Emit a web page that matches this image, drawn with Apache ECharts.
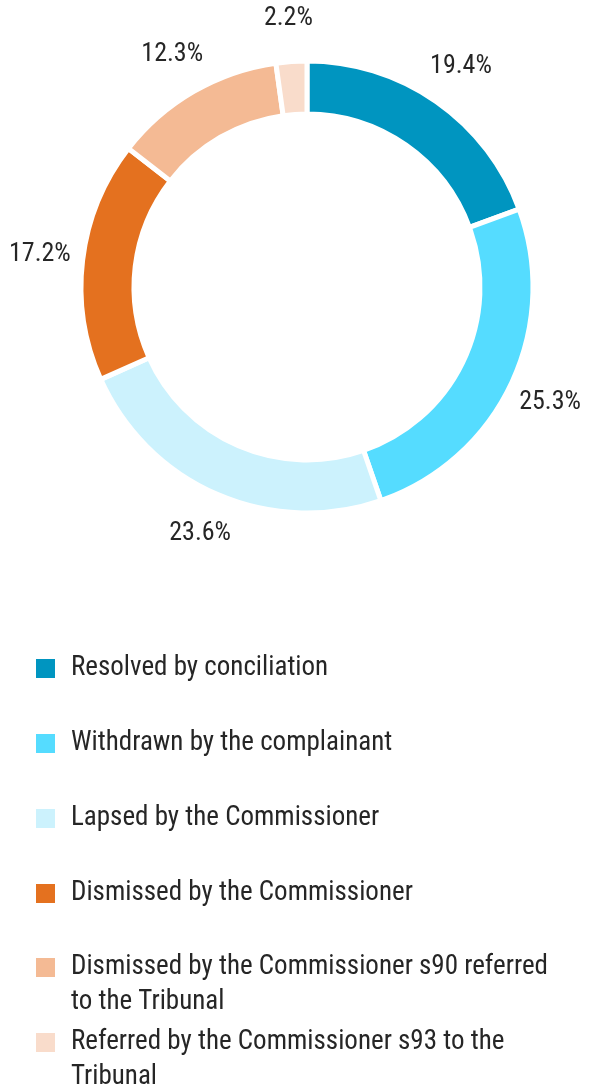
<!DOCTYPE html>
<html><head><meta charset="utf-8">
<script src="https://cdn.jsdelivr.net/npm/echarts@6/dist/echarts.min.js"></script>
<style>html,body{margin:0;padding:0;background:#fff}#c{width:592px;height:1088px}</style>
</head><body><div id="c"></div>
<script>
const categories = [
  'Resolved by conciliation',
  'Withdrawn by the complainant',
  'Lapsed by the Commissioner',
  'Dismissed by the Commissioner',
  'Dismissed by the Commissioner s90 referred to the Tribunal',
  'Referred by the Commissioner s93 to the Tribunal'
];
const values = [19.4, 25.3, 23.6, 17.2, 12.3, 2.2];
const colors = ['#0095C0', '#55DCFF', '#CCF2FD', '#E4711F', '#F4BA94', '#F9DCCB'];
const legendWrap = {
  'Dismissed by the Commissioner s90 referred to the Tribunal': ['Dismissed by the Commissioner s90 referred', 'to the Tribunal'],
  'Referred by the Commissioner s93 to the Tribunal': ['Referred by the Commissioner s93 to the', 'Tribunal']
};

const FONT = "'Liberation Sans Narrow', 'Arial Narrow', 'Roboto Condensed', 'Liberation Sans', sans-serif";
const TXT = '#262626';
const data = categories.map((n, i) => ({ name: n, value: values[i], itemStyle: { color: colors[i] } }));

const baseLegend = {
  orient: 'vertical',
  left: 36,
  padding: 0,
  icon: 'rect',
  itemWidth: 19,
  itemHeight: 19,
  selectedMode: false,
  itemStyle: { borderWidth: 0 },
  textStyle: { fontSize: 27, color: TXT, fontFamily: FONT, lineHeight: 35, padding: [0, 0, 0, 11] },
  formatter: function (name) {
    return legendWrap[name] ? '\n' + legendWrap[name].join('\n') : name;
  }
};

const chart = echarts.init(document.getElementById('c'), null, { renderer: 'canvas' });
chart.setOption({
  animation: false,
  color: colors,
  legend: [
    Object.assign({}, baseLegend, { top: 651, itemGap: 40, data: categories.slice(0, 4) }),
    Object.assign({}, baseLegend, { top: 915, data: [categories[4]] }),
    Object.assign({}, baseLegend, { top: 990, data: [categories[5]] })
  ],
  series: [
    {
      type: 'pie',
      center: [307, 287],
      radius: [173, 226],
      startAngle: 90,
      clockwise: true,
      silent: true,
      label: { show: false },
      labelLine: { show: false },
      itemStyle: { borderColor: '#fff', borderWidth: 5 },
      emphasis: { disabled: true },
      data: data
    },
    {
      type: 'pie',
      center: [307, 287],
      radius: [256, 276],
      startAngle: 90,
      clockwise: true,
      silent: true,
      legendHoverLink: false,
      itemStyle: { color: 'rgba(0,0,0,0)' },
      label: {
        show: true,
        position: 'inside',
        formatter: '{c}%',
        fontSize: 26,
        color: TXT,
        fontFamily: FONT
      },
      labelLine: { show: false },
      emphasis: { disabled: true },
      data: categories.map((n, i) => ({ name: n, value: values[i] }))
    }
  ]
});
</script>
</body></html>
